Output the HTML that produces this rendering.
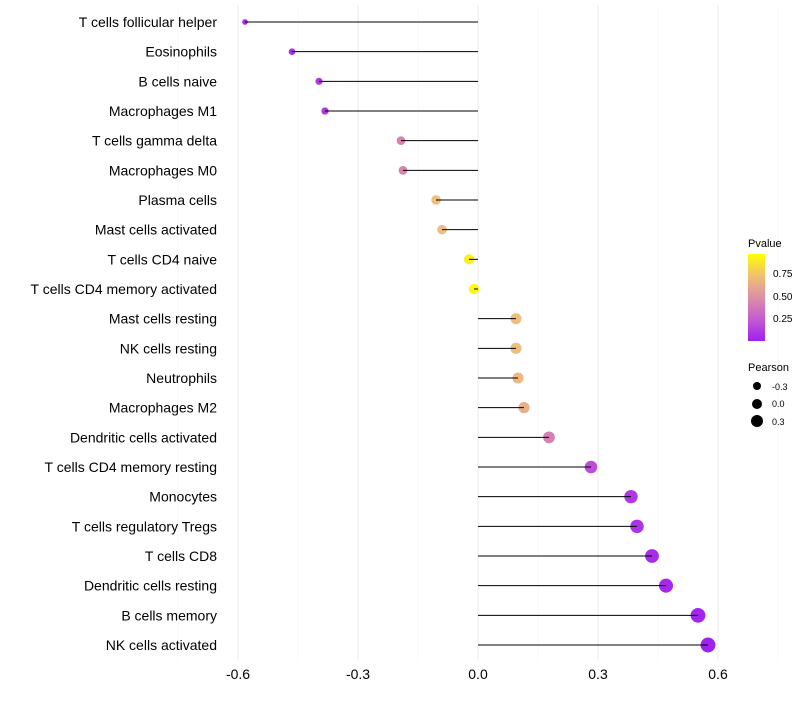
<!DOCTYPE html>
<html><head><meta charset="utf-8"><style>
body{margin:0;background:#fff;font-family:"Liberation Sans",sans-serif}
</style></head><body>
<svg id="chart" width="800" height="700" xmlns="http://www.w3.org/2000/svg">
<defs><linearGradient id="pg" x1="0" y1="1" x2="0" y2="0">
<stop offset="0" stop-color="#a020f0"/><stop offset="0.25" stop-color="#c45bd0"/><stop offset="0.5" stop-color="#dc8fa8"/><stop offset="0.75" stop-color="#f0c070"/><stop offset="1" stop-color="#ffff00"/></linearGradient></defs>
<g id="grid"></g>
<g id="marks"></g>
<g id="ylabels"></g>
<g id="xlabels"></g>
<g font-size="10">
<text x="748" y="247" font-size="11">Pvalue</text>
<rect x="748" y="254" width="17" height="87" fill="url(#pg)"/>
<text x="773" y="277">0.75</text><text x="773" y="300">0.50</text><text x="773" y="322">0.25</text>
</g>
<g font-size="9">
<text x="748" y="371" font-size="11">Pearson</text>
<circle cx="757" cy="386" r="4"/><text x="772" y="390">-0.3</text>
<circle cx="757" cy="404" r="5"/><text x="772" y="407">0.0</text>
<circle cx="757" cy="421" r="6"/><text x="772" y="425">0.3</text>
</g>
</svg>
<script>
const cells=["T cells follicular helper","Eosinophils","B cells naive","Macrophages M1","T cells gamma delta","Macrophages M0","Plasma cells","Mast cells activated","T cells CD4 naive","T cells CD4 memory activated","Mast cells resting","NK cells resting","Neutrophils","Macrophages M2","Dendritic cells activated","T cells CD4 memory resting","Monocytes","T cells regulatory  Tregs ","T cells CD8","Dendritic cells resting","B cells memory","NK cells activated"];
const pearson=[-0.5825,-0.465,-0.3975,-0.3825,-0.1925,-0.1875,-0.105,-0.09,-0.0225,-0.01,0.095,0.095,0.1,0.115,0.1775,0.2825,0.3825,0.3975,0.435,0.47,0.55,0.575];
const pvalue=[0.05,0.06,0.1,0.1,0.45,0.45,0.72,0.72,0.93,0.97,0.72,0.72,0.7,0.65,0.43,0.2,0.1,0.08,0.05,0.04,0.02,0.01];
const xticks=[-0.6,-0.3,0,0.3,0.6];
const xtickLabels=["-0.6","-0.3","0.0","0.3","0.6"];
const NS="http://www.w3.org/2000/svg";
const x=v=>478+v*400;
const y=i=>22+i*(623/21);
const rad=v=>Math.max(1.5,3.3+(v+0.465)*4.0);
function lerp(a,b,t){return a+(b-a)*t}
const stops=[[0,[160,32,240]],[0.25,[196,91,208]],[0.5,[220,143,168]],[0.75,[240,196,120]],[1,[255,255,0]]];
function col(p){for(let k=1;k<stops.length;k++){if(p<=stops[k][0]){const [a,ca]=stops[k-1],[b,cb]=stops[k];const t=(p-a)/(b-a);return `rgb(${ca.map((c,j)=>Math.round(lerp(c,cb[j],t))).join(',')})`}}return 'rgb(255,255,0)'}
function el(t,at,par){const e=document.createElementNS(NS,t);for(const k in at)e.setAttribute(k,at[k]);document.getElementById(par).appendChild(e);return e}
for(let v=-0.75;v<=0.76;v+=0.15){const major=Math.abs(Math.round(v/0.15))%2===0;
const g=el('line',{x1:x(v),x2:x(v),y1:5,y2:660,stroke:major?'#ebebeb':'#f4f4f4','stroke-width':major?1:0.6},'grid');

}
xticks.forEach((v,i)=>{const t=el('text',{x:x(v),y:679,'text-anchor':'middle','font-size':14},'xlabels');t.textContent=xtickLabels[i];

});
cells.forEach((c,i)=>{
const t=el('text',{x:217,y:y(i)+5,'text-anchor':'end','font-size':14},'ylabels');t.textContent=c;


const p=el('circle',{cx:x(pearson[i]),cy:y(i),r:rad(pearson[i]),fill:col(pvalue[i])},'marks');


const l=el('line',{x1:x(0),x2:x(pearson[i]),y1:y(i),y2:y(i),stroke:'#000','stroke-width':1},'marks');


});
</script>
</body></html>
